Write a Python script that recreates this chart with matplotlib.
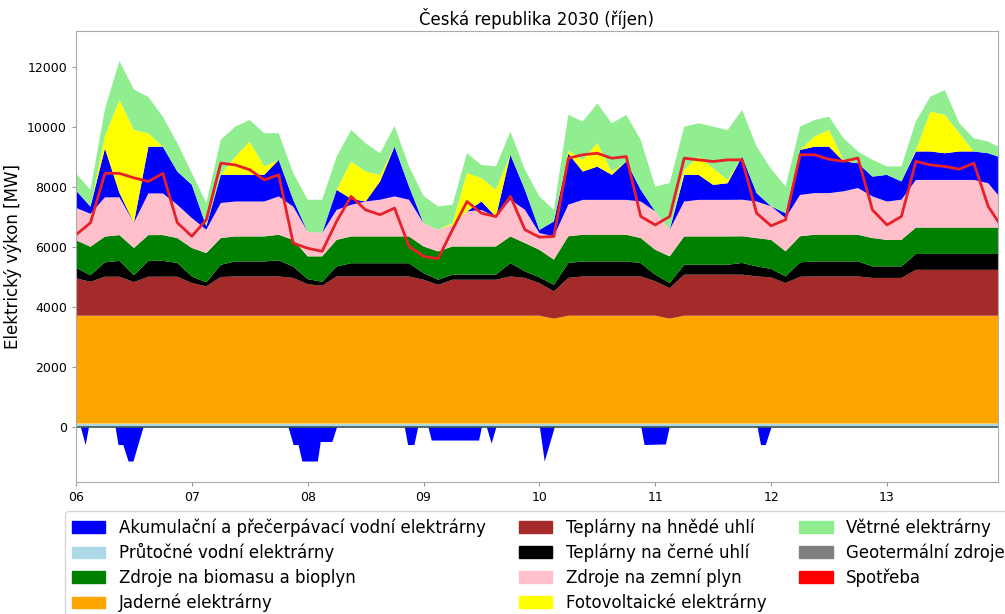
import matplotlib
matplotlib.use("Agg")
import matplotlib.pyplot as plt
from matplotlib.patches import Patch

# hodiny od 06.10. 00:00, krok 3 h
hours = list(range(0, 190, 3)) + [191]
day_labels = ['06', '07', '08', '09', '10', '11', '12', '13']

# vyroba [MW]
ror = [100] * len(hours)
nuclear = [3600] * 33 + [3500] + [3600] * 7 + [3500] + [3600] * 23
brown = [1250, 1130, 1300, 1300, 1120, 1300, 1300, 1300,
         1090, 980, 1290, 1310, 1310, 1310, 1310, 1260,
         1050, 1000, 1310, 1310, 1310, 1310, 1310, 1310,
         1200, 1030, 1200, 1200, 1200, 1200, 1310, 1260,
         1090, 910, 1260, 1310, 1310, 1310, 1310, 1310,
         1150, 1020, 1370, 1370, 1370, 1370, 1370, 1310,
         1280, 1090, 1300, 1310, 1310, 1310, 1310, 1260,
         1260, 1260, 1530, 1530, 1530, 1530, 1530, 1530, 1530]
black = [350, 220, 480, 530, 230, 530, 530, 460,
         220, 130, 410, 500, 500, 500, 535, 380,
         170, 130, 330, 440, 440, 440, 440, 440,
         220, 170, 170, 170, 170, 170, 445, 220,
         190, 220, 500, 500, 500, 500, 500, 445,
         220, 170, 330, 330, 330, 330, 390, 335,
         280, 220, 480, 500, 500, 500, 500, 385,
         385, 385, 530, 530, 530, 530, 530, 530, 530]
biomass = [920, 950, 860, 860, 910, 860, 860, 830,
           950, 980, 890, 835, 835, 835, 855, 890,
           760, 850, 890, 895, 895, 895, 895, 895,
           890, 945, 940, 940, 940, 940, 890, 945,
           920, 840, 890, 890, 890, 890, 890, 835,
           830, 890, 945, 945, 945, 945, 890, 945,
           970, 840, 870, 890, 890, 890, 890, 945,
           885, 885, 880, 880, 880, 880, 880, 880, 880]
gas = [1080, 1100, 1310, 1260, 840, 1390, 1390, 1110,
       1000, 780, 1170, 1165, 1165, 1165, 1280, 1110,
       820, 780, 1000, 1055, 1165, 1225, 1335, 1225,
       780, 720, 720, 1170, 1220, 990, 1225, 1110,
       560, 775, 1055, 1165, 1165, 1165, 1165, 1220,
       1280, 890, 1165, 1220, 1220, 1220, 1220, 1220,
       1120, 1110, 1380, 1390, 1390, 1450, 1560, 1390,
       1280, 1340, 1590, 1590, 1590, 1590, 1590, 1480, 1090]
hydro = [580, 240, 1630, 150, 0, 1560, 1560, 1110,
         1110, 110, 940, 890, 890, 890, 1220, 230,
         0, 0, 670, 200, 0, 610, 1665, 440,
         0, 0, 0, 0, 280, 0, 1500, 670,
         100, 500, 1700, 945, 1110, 835, 1280, 390,
         0, 0, 890, 835, 500, 555, 1445, 280,
         0, 160, 1500, 1550, 1550, 1000, 830, 660,
         890, 610, 950, 950, 890, 950, 950, 1000, 1280]
solar = [0, 0, 420, 3100, 3100, 440, 0, 0,
         0, 0, 0, 610, 1110, 280, 0, 0,
         0, 0, 0, 1245, 1000, 220, 0, 0,
         0, 0, 60, 1280, 780, 900, 0, 0,
         0, 0, 100, 390, 780, 110, 0, 0,
         0, 0, 165, 610, 555, 110, 0, 0,
         0, 0, 0, 340, 560, 50, 0, 0,
         0, 0, 50, 1330, 1280, 610, 0, 0, 0]
wind = [570, 560, 900, 1300, 1350, 1220, 1000, 950,
        390, 780, 1170, 1000, 720, 1110, 890, 890,
        1070, 1110, 1110, 1055, 945, 720, 685, 670,
        910, 780, 610, 660, 440, 780, 775, 670,
        1120, 390, 1200, 1280, 1330, 1610, 1555, 1665,
        830, 1555, 1445, 1110, 1390, 1665, 1555, 1555,
        1250, 890, 780, 550, 440, 720, 390, 560,
        280, 500, 950, 500, 830, 330, 440, 390, 330]
geothermal = [0] * len(hours)

# spotreba [MW]
demand = [6400, 6800, 8450, 8450, 8300, 8180, 8450, 6800,
          6350, 6900, 8790, 8730, 8570, 8230, 8400, 6120,
          5950, 5850, 6850, 7680, 7230, 7070, 7290, 6010,
          5680, 5600, 6570, 7510, 7120, 7010, 7680, 6570,
          6320, 6345, 8955, 9070, 9120, 8955, 9010, 7010,
          6730, 7010, 8955, 8900, 8845, 8900, 8900, 7120,
          6700, 6900, 9070, 9070, 8920, 8850, 8960, 7230,
          6730, 7010, 8850, 8730, 8680, 8590, 8790, 7340, 6850]

# precerpavani (zaporne) [MW]
pump_hours = [0, 0.9, 1.9, 2.6, 8.1, 8.7, 9.7, 10.8, 11.8, 13.9,
              43.9, 45.0, 46.0, 46.8, 50.0, 50.6, 53.0, 54.0,
              68.0, 68.7, 70.0, 70.8, 72.9, 73.6, 83.4, 84.0,
              85.0, 86.0, 87.0, 96.0, 97.0, 99.1,
              117.0, 117.7, 122.1, 122.9, 141.1, 141.8, 142.8, 144.0, 191]
pump = [0, 0, -600, 0, 0, -600, -600, -1150, -1150, 0,
        0, -600, -600, -1150, -1150, -500, -500, 0,
        0, -600, -600, 0, 0, -450, -450, 0,
        0, -550, 0, 0, -1150, 0,
        0, -600, -580, 0, 0, -600, -600, 0, 0]

c_hydro = '#0000ff'
c_ror = '#add8e6'
c_bio = '#008000'
c_nuc = '#ffa500'
c_brown = '#a52a2a'
c_black = '#000000'
c_gas = '#ffc0cb'
c_pv = '#ffff00'
c_wind = '#90ee90'
c_geo = '#808080'
c_dem = '#ff0000'

fig = plt.figure(figsize=(10.05, 6.14), dpi=100)
ax = fig.add_axes([0.0756, 0.215, 0.9174, 0.7345])

ax.stackplot(hours, ror, nuclear, brown, black, biomass, gas, hydro, solar, wind, geothermal,
             colors=[c_ror, c_nuc, c_brown, c_black, c_bio, c_gas, c_hydro, c_pv, c_wind, c_geo],
             linewidth=0)
ax.fill_between(pump_hours, pump, 0, color=c_hydro, linewidth=0)
ax.axhline(0, color='#3a5858', lw=1.2)
ax.plot(hours, demand, color='#e8202a', lw=2)

ax.set_xlim(0, 191)
ax.set_ylim(-1850, 13200)
ax.set_xticks([24 * i for i in range(len(day_labels))])
ax.set_xticklabels(day_labels)
ax.set_yticks([0, 2000, 4000, 6000, 8000, 10000, 12000])
ax.tick_params(labelsize=9, color='#999999', length=3)
for s in ax.spines.values():
    s.set_color('#aaaaaa')
ax.set_ylabel('Elektrický výkon [MW]', fontsize=12)
ax.set_title('Česká republika 2030 (říjen)', fontsize=12, pad=4)

names = ['Akumulační a přečerpávací vodní elektrárny', 'Průtočné vodní elektrárny',
         'Zdroje na biomasu a bioplyn', 'Jaderné elektrárny',
         'Teplárny na hnědé uhlí', 'Teplárny na černé uhlí',
         'Zdroje na zemní plyn', 'Fotovoltaické elektrárny',
         'Větrné elektrárny', 'Geotermální zdroje', 'Spotřeba']
cols = [c_hydro, c_ror, c_bio, c_nuc, c_brown, c_black, c_gas, c_pv, c_wind, c_geo, c_dem]
handles = [Patch(color=c, label=n) for c, n in zip(cols, names)]
fig.legend(handles=handles, loc='upper left', bbox_to_anchor=(0.065, 0.167), ncol=3,
           fontsize=12, frameon=True, edgecolor='#cccccc', handlelength=2.0,
           columnspacing=2.0, labelspacing=0.4, borderaxespad=0)

fig.savefig('out.png', dpi=100)
